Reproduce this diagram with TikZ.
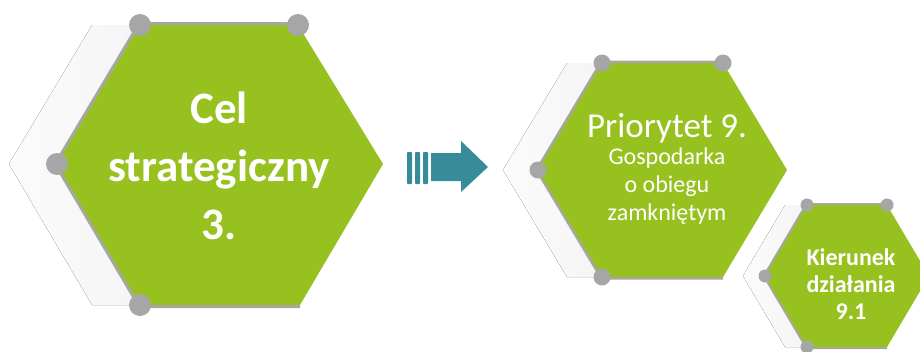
\documentclass[tikz,border=0pt]{standalone}
\usepackage{fontspec}
\setmainfont{Carlito}
\definecolor{hexgreen}{HTML}{96C11F}
\definecolor{dotgray}{HTML}{A6A6A6}
\definecolor{shadowgray}{HTML}{EBEBEB}
\definecolor{arrowteal}{HTML}{368D99}
\tikzset{
  hexfill/.style={fill=hexgreen, draw=none},
  hexshadow/.style={left color=gray!3, right color=shadowgray, draw=none},
  hexedge/.style={draw=dotgray, line width=5pt, line join=round},
  hexdot/.style={circle, fill=dotgray, draw=none, inner sep=0pt},
  hextext/.style={text=white, align=center, inner sep=0pt},
}
\begin{document}
\begin{tikzpicture}[x=1pt,y=-1pt]
\useasboundingbox (0,0) rectangle (920,351);
\clip (0,0) rectangle (920,351);
\fill[white] (0,0) rectangle (920,351);

% ---------- big hexagon ----------
\coordinate (aTL) at (140,25); \coordinate (aTR) at (298,25);
\coordinate (aR) at (383,164); \coordinate (aBR) at (300,305);
\coordinate (aBL) at (140,305); \coordinate (aL) at (57,164);
\fill[hexshadow] ([xshift=-48]aTL) -- ([xshift=-48]aTR) -- ([xshift=-48]aR) -- ([xshift=-48]aBR) -- ([xshift=-48]aBL) -- ([xshift=-48]aL) -- cycle;
\draw[hexedge, line width=6pt] (aTR) -- (aTL) -- (aL) -- (aBL) -- (aBR);
\fill[hexfill] (aTL) -- (aTR) -- (aR) -- (aBR) -- (aBL) -- (aL) -- cycle;
\foreach \p in {aTL,aTR,aL,aBL} \node[hexdot, minimum size=22pt] at (\p) {};
\node[hextext, font=\bfseries\fontsize{45}{58}\selectfont] (cel) at (219,166) {Cel\\strategiczny\\3.};

% ---------- arrow ----------
\fill[arrowteal, rounded corners=0.8pt] (407,152) rectangle (412,184);
\fill[arrowteal, rounded corners=0.8pt] (415,152) rectangle (420,184);
\fill[arrowteal, rounded corners=0.8pt] (423,152) rectangle (428,184);
\fill[arrowteal] (431,153) -- (461,153) -- (461,141) -- (488,167) -- (461,192) -- (461,181) -- (431,181) -- cycle;

% ---------- middle hexagon ----------
\coordinate (bTL) at (602,63); \coordinate (bTR) at (723,63);
\coordinate (bR) at (787,170); \coordinate (bBR) at (723,277);
\coordinate (bBL) at (602,277); \coordinate (bL) at (538,170);
\fill[hexshadow] ([xshift=-35]bTL) -- ([xshift=-35]bTR) -- ([xshift=-35]bR) -- ([xshift=-35]bBR) -- ([xshift=-35]bBL) -- ([xshift=-35]bL) -- cycle;
\draw[hexedge, line width=5pt] (bTR) -- (bTL) -- (bL) -- (bBL) -- (bBR);
\fill[hexfill] (bTL) -- (bTR) -- (bR) -- (bBR) -- (bBL) -- (bL) -- cycle;
\foreach \p in {bTL,bTR,bL,bBL} \node[hexdot, minimum size=17pt] at (\p) {};
\node[hextext, anchor=base] (prio) at (667,137) {\fontsize{35}{40}\selectfont Priorytet 9.};
\node[hextext, anchor=north, font=\fontsize{24}{28}\selectfont] (gosp) at (667,148) {Gospodarka\\o obiegu\\zamkniętym};

% ---------- small hexagon ----------
\coordinate (cTL) at (807,205); \coordinate (cTR) at (887,205);
\coordinate (cR) at (929,276); \coordinate (cBR) at (887,347);
\coordinate (cBL) at (807,347); \coordinate (cL) at (765,276);
\fill[hexshadow] ([xshift=-22]cTL) -- ([xshift=-22]cTR) -- ([xshift=-22]cR) -- ([xshift=-22]cBR) -- ([xshift=-22]cBL) -- ([xshift=-22]cL) -- cycle;
\draw[hexedge, line width=4pt] (cTR) -- (cTL) -- (cL) -- (cBL) -- (cBR);
\fill[hexfill] (cTL) -- (cTR) -- (cR) -- (cBR) -- (cBL) -- (cL) -- cycle;
\foreach \p in {cTL,cTR,cL,cBL} \node[hexdot, minimum size=13pt] at (\p) {};
\node[hextext, font=\bfseries\fontsize{24}{27}\selectfont] (kier) at (851,284) {Kierunek\\działania\\9.1};
\end{tikzpicture}
\end{document}
